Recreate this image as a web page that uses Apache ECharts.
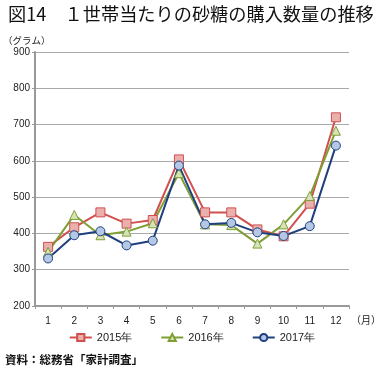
<!DOCTYPE html>
<html><head><meta charset="utf-8">
<script src="https://cdn.jsdelivr.net/npm/echarts@6/dist/echarts.min.js"></script>
<style>html,body{margin:0;padding:0;background:#fff}#c{width:384px;height:367px}</style>
</head><body><div id="c"></div>
<script>
const months = ['1','2','3','4','5','6','7','8','9','10','11','12'];
const s2015 = [363, 417, 458, 427, 437, 604, 458, 458, 411, 392, 482, 720];
const s2016 = [349, 451, 395, 405, 428, 566, 425, 423, 372, 425, 503, 683];
const s2017 = [331, 395, 406, 367, 380, 587, 425, 429, 403, 393, 420, 642];
const yTicks = [200, 300, 400, 500, 600, 700, 800, 900];
const seriesNames = ['2015年', '2016年', '2017年'];

const jp = '"Noto Sans CJK JP", sans-serif';
const num = '"Liberation Sans", Arial, sans-serif';
const chart = echarts.init(document.getElementById('c'), null, {renderer: 'canvas'});
function mk(name, data, line, fill, symbol, size) {
  return {
    name, type: 'line', data, symbol, symbolSize: size,
    lineStyle: {color: line, width: 2},
    itemStyle: {color: fill, borderColor: line, borderWidth: 1},
    emphasis: {disabled: true}, animation: false
  };
}
chart.setOption({
  animation: false,
  title: [
    {text: '図14　１世帯当たりの砂糖の購入数量の推移', left: 3, top: 0,
     textStyle: {fontFamily: jp, fontSize: 18.2, fontWeight: 'normal', color: '#111'}},
    {text: '（グラム）', left: -2, top: 31,
     textStyle: {fontFamily: jp, fontSize: 9.5, fontWeight: 'normal', color: '#222'}},
    {text: '資料：総務省「家計調査」', left: 0, top: 349,
     textStyle: {fontFamily: jp, fontSize: 11.5, fontWeight: 'bold', color: '#111'}}
  ],
  grid: {left: 35, right: 18, top: 52, bottom: 61},
  legend: {
    data: seriesNames, bottom: 19, left: 'center', itemGap: 28, itemWidth: 22, itemHeight: 9,
    textStyle: {fontFamily: num, fontSize: 11, color: '#222'}
  },
  xAxis: {
    type: 'category', data: months, boundaryGap: true, name: '（月）',
    nameLocation: 'end', nameGap: 2,
    nameTextStyle: {fontFamily: jp, fontSize: 10, color: '#222', verticalAlign: 'top', padding: [9, 0, 0, 0]},
    axisLine: {lineStyle: {color: '#999', width: 2}},
    axisTick: {show: true, alignWithLabel: false, length: 3, lineStyle: {color: '#999'}},
    axisLabel: {fontFamily: num, fontSize: 10, color: '#222', margin: 10}
  },
  yAxis: {
    type: 'value', min: yTicks[0], max: yTicks[yTicks.length - 1], interval: 100,
    axisLine: {show: true, lineStyle: {color: '#999', width: 2}},
    axisTick: {show: true, length: 3, lineStyle: {color: '#999'}},
    splitLine: {lineStyle: {color: '#aaa', width: 1}},
    axisLabel: {fontFamily: num, fontSize: 10, color: '#222', margin: 5}
  },
  series: [
    mk(seriesNames[0], s2015, '#d0504d', '#eab0ae', 'rect', 9),
    mk(seriesNames[1], s2016, '#7f9f35', '#d6e3b9', 'triangle', 9),
    mk(seriesNames[2], s2017, '#1f3f7f', '#b4c8e6', 'circle', 9)
  ]
});
</script></body></html>
